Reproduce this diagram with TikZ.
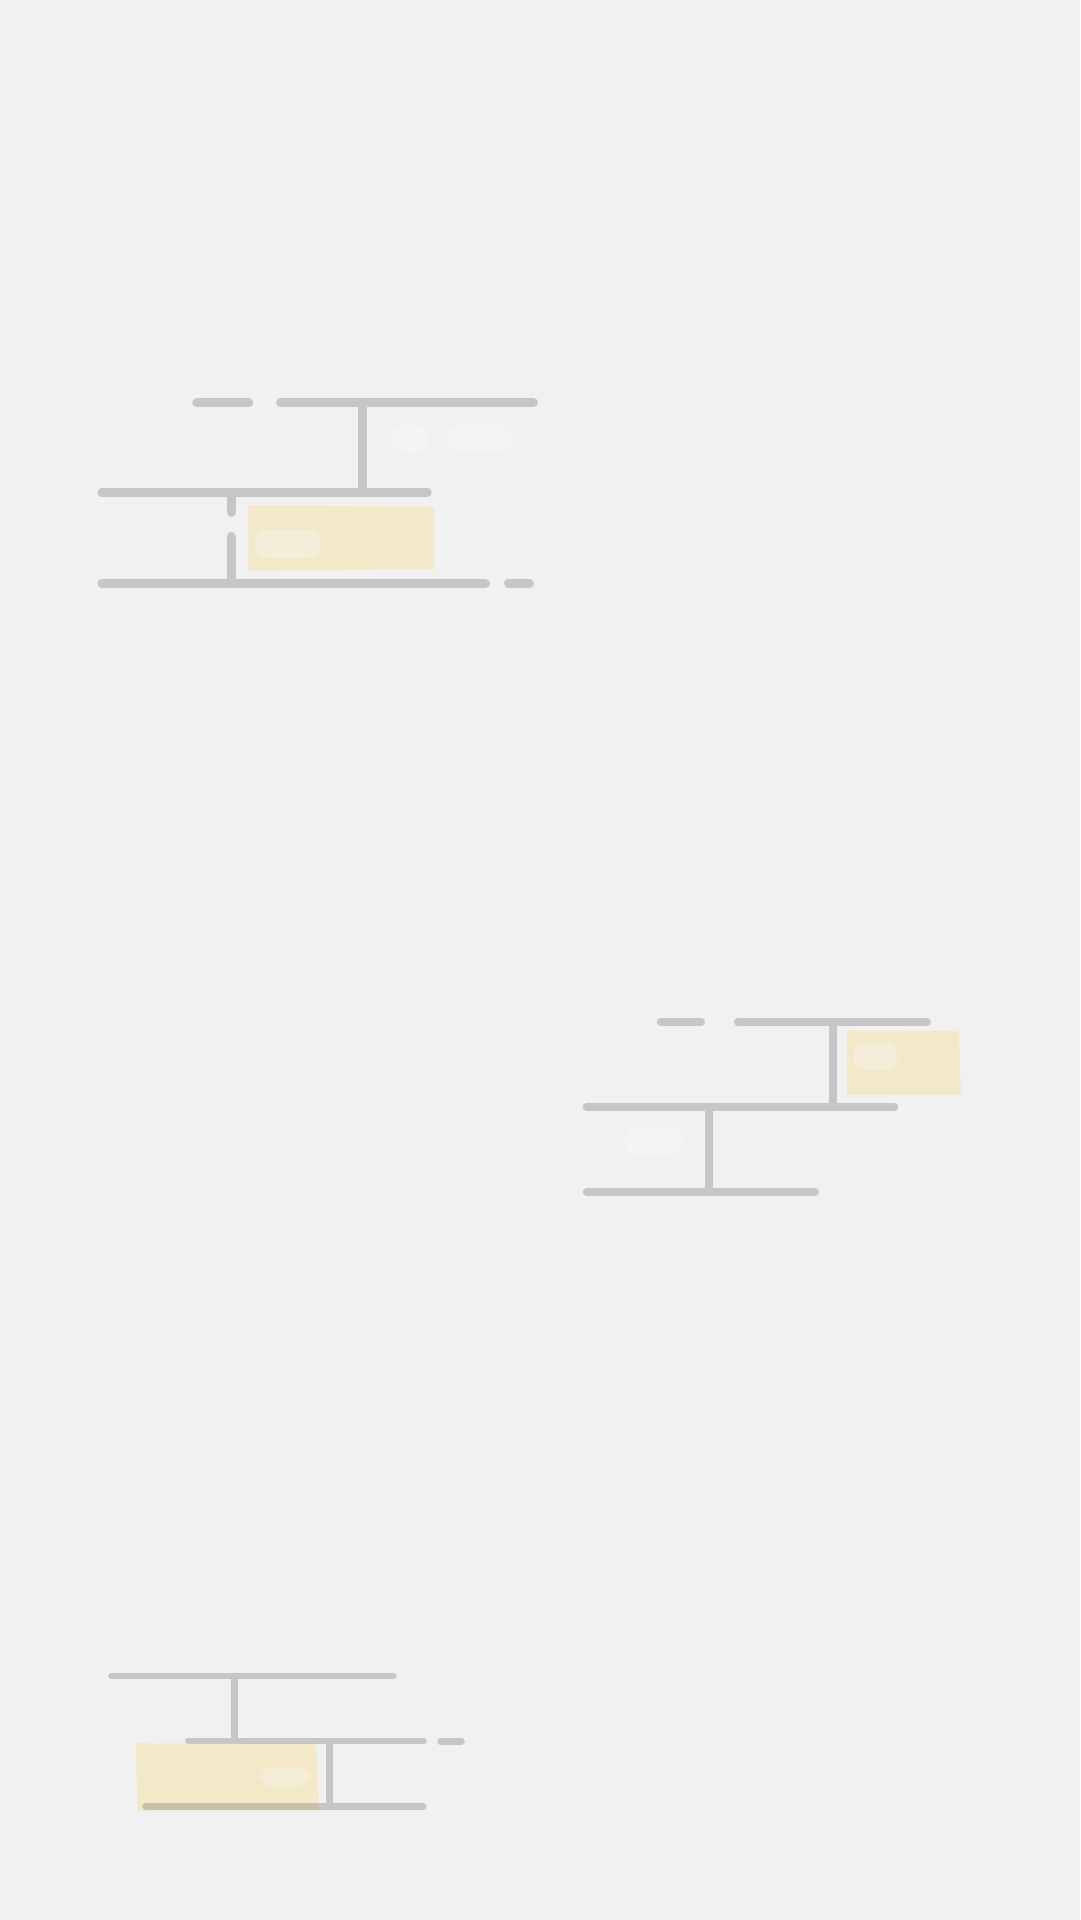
\documentclass[tikz,border=0pt]{standalone}
\begin{document}
\begin{tikzpicture}[x=1pt,y=-1pt,
  ln/.style={draw=linegray,line cap=round},
  gA/.style={ln,line width=9pt},
  gB/.style={ln,line width=8pt},
  gC/.style={ln,line width=6.5pt},
  sticky/.style={fill=stickyyellow},
  pilllight/.style={fill=pillgray,rounded corners=13pt},
  pillcream/.style={fill=pillcream,rounded corners=13pt}]
\definecolor{bggray}{HTML}{F1F1F1}
\definecolor{linegray}{HTML}{C6C6C6}
\definecolor{tintgray}{HTML}{C8C1AA}
\definecolor{stickyyellow}{HTML}{F3E8C8}
\definecolor{pillgray}{HTML}{F4F4F4}
\definecolor{pillcream}{HTML}{F4EDD8}
\useasboundingbox (0,0) rectangle (1080,1920);
\fill[bggray] (0,0) rectangle (1080,1920);

% ---------- group 1 ----------
\fill[sticky] (248.3,505.3) -- (330,506) -- (434,507) -- (434,569.3) -- (248.3,570.7) -- cycle;
\fill[pillcream] (254,530) rectangle (320.7,558.3);
\fill[pilllight] (391,424.5) rectangle (428,453.5);
\fill[pilllight] (446.5,425) rectangle (512,453);
\draw[gA] (196.8,402.7) -- (248.8,402.7);
\draw[gA] (280.5,402.7) -- (533.5,402.7);
\draw[gA,line cap=butt] (362.7,402.7) -- (362.7,492.7);
\draw[gA] (101.8,492.7) -- (427.2,492.7);
\draw[gA] (231,494) -- (231,512.5);
\draw[gA] (231,536.5) -- (231,582);
\draw[gA] (101.8,583.3) -- (485.5,583.3);
\draw[gA] (508.5,583) -- (529.5,583);

% ---------- group 2 ----------
\fill[sticky] (847,1030.7) -- (959,1031.3) -- (961,1095) -- (847,1095) -- cycle;
\fill[pillcream] (852.7,1042.7) rectangle (897.7,1070);
\fill[pilllight] (624.3,1128.3) rectangle (683.7,1155);
\draw[gB] (660.7,1022) -- (701,1022);
\draw[gB] (738,1022) -- (927,1022);
\draw[gB,line cap=butt] (833.3,1022) -- (833.3,1106.7);
\draw[gB] (586.7,1106.7) -- (894.3,1106.7);
\draw[gB,line cap=butt] (709,1106.7) -- (709,1192);
\draw[gB] (586.7,1192) -- (815,1192);

% ---------- group 3 ----------
\draw[gC] (111.5,1676) -- (393.5,1676);
\draw[gC,line cap=butt] (234.7,1676) -- (234.7,1741);
\draw[gC] (188.2,1741) -- (423.5,1741);
\draw[gC] (440.5,1741.5) -- (461.5,1741.5);
\draw[gC,line cap=butt] (329.7,1741) -- (329.7,1806.7);
\draw[gC] (145.5,1806.7) -- (423.5,1806.7);
\fill[sticky] (135.7,1742.3) -- (150,1743.5) -- (316,1743) -- (319.3,1810.7) -- (137.7,1810.7) -- cycle;
\begin{scope}
  \clip (135.7,1742.3) -- (150,1743.5) -- (316,1743) -- (319.3,1810.7) -- (137.7,1810.7) -- cycle;
  \draw[gC,draw=tintgray] (188.2,1741) -- (423.5,1741);
  \draw[gC,draw=tintgray] (145.5,1806.7) -- (423.5,1806.7);
\end{scope}
\fill[pillcream] (260,1767.3) rectangle (310,1786.7);
\end{tikzpicture}
\end{document}
